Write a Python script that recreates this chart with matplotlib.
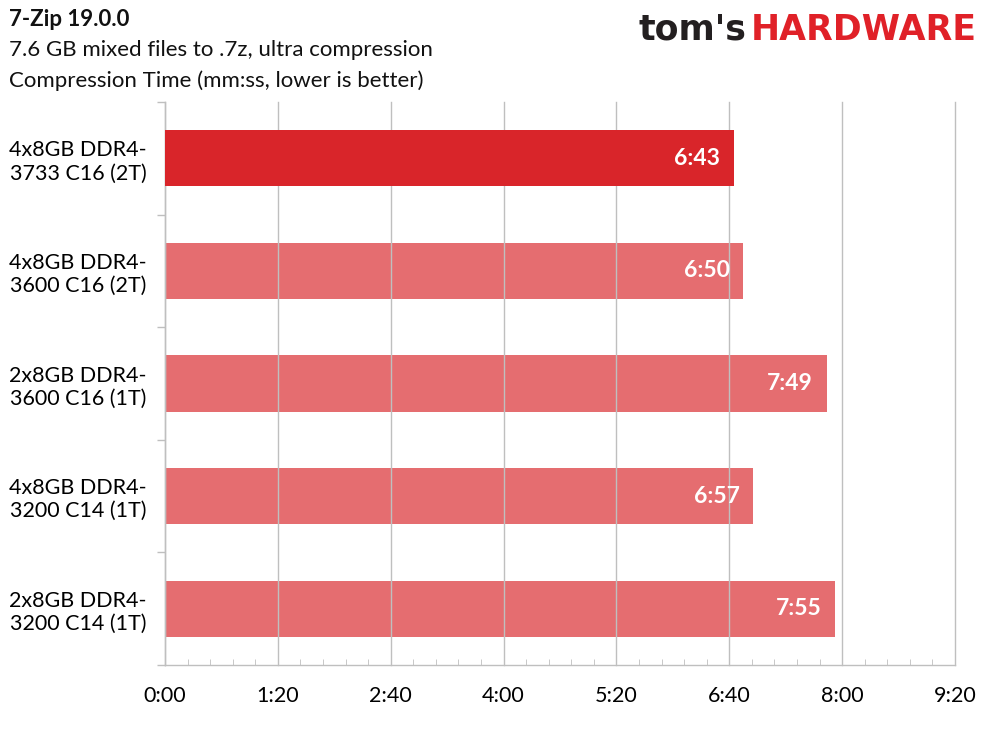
import matplotlib
matplotlib.use("Agg")
import matplotlib.pyplot as plt
import numpy as np

categories = ["4x8GB DDR4-\n3733 C16 (2T)", "4x8GB DDR4-\n3600 C16 (2T)",
              "2x8GB DDR4-\n3600 C16 (1T)", "4x8GB DDR4-\n3200 C14 (1T)",
              "2x8GB DDR4-\n3200 C14 (1T)"]
seconds = [403, 410, 469, 417, 475]
highlight = [True, False, False, False, False]
xticks = [0, 80, 160, 240, 320, 400, 480, 560]
xticklabels = ["0:00", "1:20", "2:40", "4:00", "5:20", "6:40", "8:00", "9:20"]

plt.rcParams['font.family'] = ['Lato', 'DejaVu Sans']

RED = "#D9252A"
GRID = "#BFBFBF"

fig = plt.figure(figsize=(9.9, 7.41), dpi=100)
ax = fig.add_axes([165/990, 1-665/741, (955-165)/990, (665-102)/741])

y = np.arange(len(categories))
for yi, v, h in zip(y, seconds, highlight):
    ax.barh(yi, v, height=0.5, color=RED, alpha=1.0 if h else 0.67,
            zorder=3 if h else 1)
    ax.annotate(f"{v//60}:{v%60:02d}", xy=(v, yi), xytext=(-10, 0),
                textcoords="offset points", ha="right", va="center",
                color="white", fontsize=16.5, fontweight="bold", zorder=4)

ax.set_xlim(0, 560)
ax.set_ylim(len(categories)-0.5, -0.5)
ax.set_xticks(xticks)
ax.set_xticklabels(xticklabels, fontsize=15.5)
ax.set_xticks(np.arange(0, 561, 16), minor=True)
ax.xaxis.grid(True, which="major", color=GRID, linewidth=1.0, zorder=2)
ax.set_axisbelow(False)
for line in ax.get_xgridlines():
    line.set_zorder(2)
    line.set_clip_on(False)
ax.tick_params(axis="x", which="both", direction="in", length=4.3,
               color=GRID, pad=15)
ax.tick_params(axis="x", which="major", length=0)

ax.set_yticks(y)
ax.set_yticklabels(categories, fontsize=15.5, multialignment="center")
ax.set_yticks(np.arange(-0.5, len(categories)), minor=True)
ax.tick_params(axis="y", which="major", length=0, pad=13)
ax.tick_params(axis="y", which="minor", direction="out", length=5.8,
               color=GRID, width=1.0)

ax.spines["top"].set_visible(False)
ax.spines["right"].set_visible(False)
for s in ["left", "bottom"]:
    ax.spines[s].set_color(GRID)
    ax.spines[s].set_linewidth(1.0)

fig.text(9/990, 1-20/741, "7-Zip 19.0.0", fontsize=16, fontweight="bold",
         ha="left", va="center", color="#111111")
fig.text(9/990, 1-50/741, "7.6 GB mixed files to .7z, ultra compression",
         fontsize=16, ha="left", va="center", color="#111111")
fig.text(9/990, 1-81/741, "Compression Time (mm:ss, lower is better)",
         fontsize=16, ha="left", va="center", color="#111111")

hw = fig.text(977/990, 1-30/741, "HARDWARE", fontsize=25, fontweight="bold",
              family="DejaVu Sans", color="#E02128", ha="right", va="center")
ax.annotate("tom's", xy=(0, 0), xycoords=hw, xytext=(-3, 0),
            textcoords="offset points", fontsize=25, fontweight="bold",
            family="DejaVu Sans", color="#231F20", ha="right", va="bottom",
            annotation_clip=False)

fig.savefig("out.png", dpi=100)
